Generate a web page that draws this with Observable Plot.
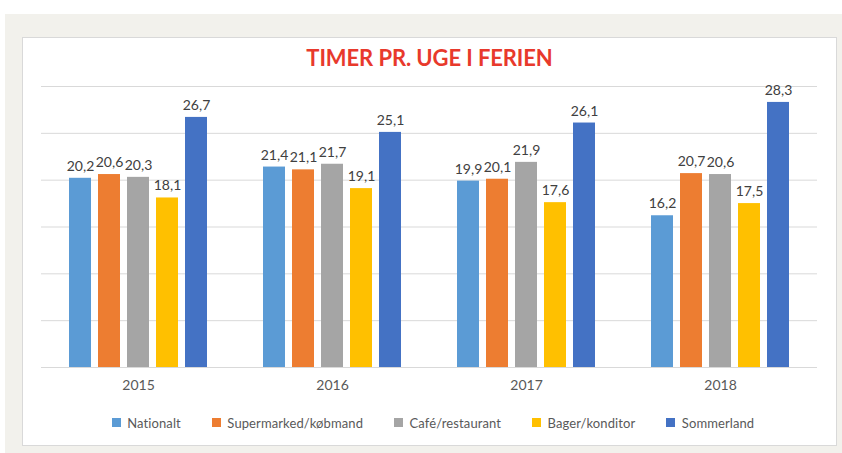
<!DOCTYPE html>
<html>
<head>
<meta charset="utf-8">
<script src="https://cdn.jsdelivr.net/npm/d3@7"></script>
<script src="https://cdn.jsdelivr.net/npm/@observablehq/plot@0.6"></script>
<style>
  html, body { margin: 0; padding: 0; background: #ffffff; width: 842px; height: 453px; overflow: hidden; }
  #outer { position: absolute; left: 5px; top: 14px; width: 837px; height: 439px; background: #f2f1ec; }
  #panel { position: absolute; left: 22px; top: 37px; width: 813px; height: 407px; background: #ffffff; border: 1px solid #d9d9d9; }
  #title { position: absolute; left: 22px; top: 44px; width: 815px; text-align: center; font-family: Lato, "Open Sans", sans-serif; font-weight: 700; font-size: 22px; color: #e8392c; letter-spacing: -0.1px; }
  #chart { position: absolute; left: 22px; top: 70px; }
  #legend { position: absolute; left: 41px; top: 406px; width: 815px; display: flex; justify-content: center; }
  .lg-swatch { margin-right: 31px !important; }
  .lg-swatch:first-child { margin-right: 22px !important; }
  .lg-swatches { font-family: Lato, "Open Sans", sans-serif !important; font-size: 13px !important; color: #595959 !important; letter-spacing: 0.1px; }
</style>
</head>
<body>
<div id="outer"></div>
<div id="panel"></div>
<div id="title">TIMER PR. UGE I FERIEN</div>
<div id="chart"></div>
<div id="legend"></div>
<script>
const years = ["2015", "2016", "2017", "2018"];
const series = ["Nationalt", "Supermarked/købmand", "Café/restaurant", "Bager/konditor", "Sommerland"];
const colors = ["#5b9bd5", "#ed7d31", "#a5a5a5", "#ffc000", "#4472c4"];
const nationalt = [20.2, 21.4, 19.9, 16.2];
const supermarked = [20.6, 21.1, 20.1, 20.7];
const cafe = [20.3, 21.7, 21.9, 20.6];
const bager = [18.1, 19.1, 17.6, 17.5];
const sommerland = [26.7, 25.1, 26.1, 28.3];
const gridTicks = [5, 10, 15, 20, 25, 30];

const seriesValues = [nationalt, supermarked, cafe, bager, sommerland];
const data = [];
years.forEach((yr, i) => {
  series.forEach((s, j) => {
    data.push({year: yr, series: s, value: seriesValues[j][i]});
  });
});

const fmt = v => v.toFixed(1).replace(".", ",");

const chart = Plot.plot({
  width: 813,
  height: 327,
  marginLeft: 19,
  marginRight: 18,
  marginTop: 16,
  marginBottom: 30,
  style: {fontFamily: "Lato, 'Open Sans', sans-serif", background: "transparent"},
  fx: {domain: years, padding: 0, label: null, axis: "bottom", tickSize: 0, tickPadding: 13, fontSize: 14},
  x: {domain: series, paddingInner: 0.23, paddingOuter: 0.85, axis: null},
  y: {domain: [0, 30], axis: null},
  color: {domain: series, range: colors},
  marks: [
    Plot.gridY(gridTicks, {stroke: "#d9d9d9", strokeOpacity: 1, strokeWidth: 1}),
    Plot.barY(data, {fx: "year", x: "series", y: "value", fill: "series"}),
    Plot.ruleY([0], {stroke: "#d9d9d9", strokeWidth: 1}),
    Plot.text(data, {fx: "year", x: "series", y: "value", text: d => fmt(d.value), dy: -12, fontSize: 14, fill: "#404040"})
  ]
});
chart.querySelectorAll("g[aria-label='fx-axis tick label']").forEach(el => {
  el.setAttribute("fill", "#595959");
  el.setAttribute("font-size", "14");
});
document.getElementById("chart").appendChild(chart);

const legend = Plot.legend({
  color: {domain: series, range: colors},
  legend: "swatches",
  swatchSize: 9,
  className: "lg"
});
document.getElementById("legend").appendChild(legend);
</script>
</body>
</html>
